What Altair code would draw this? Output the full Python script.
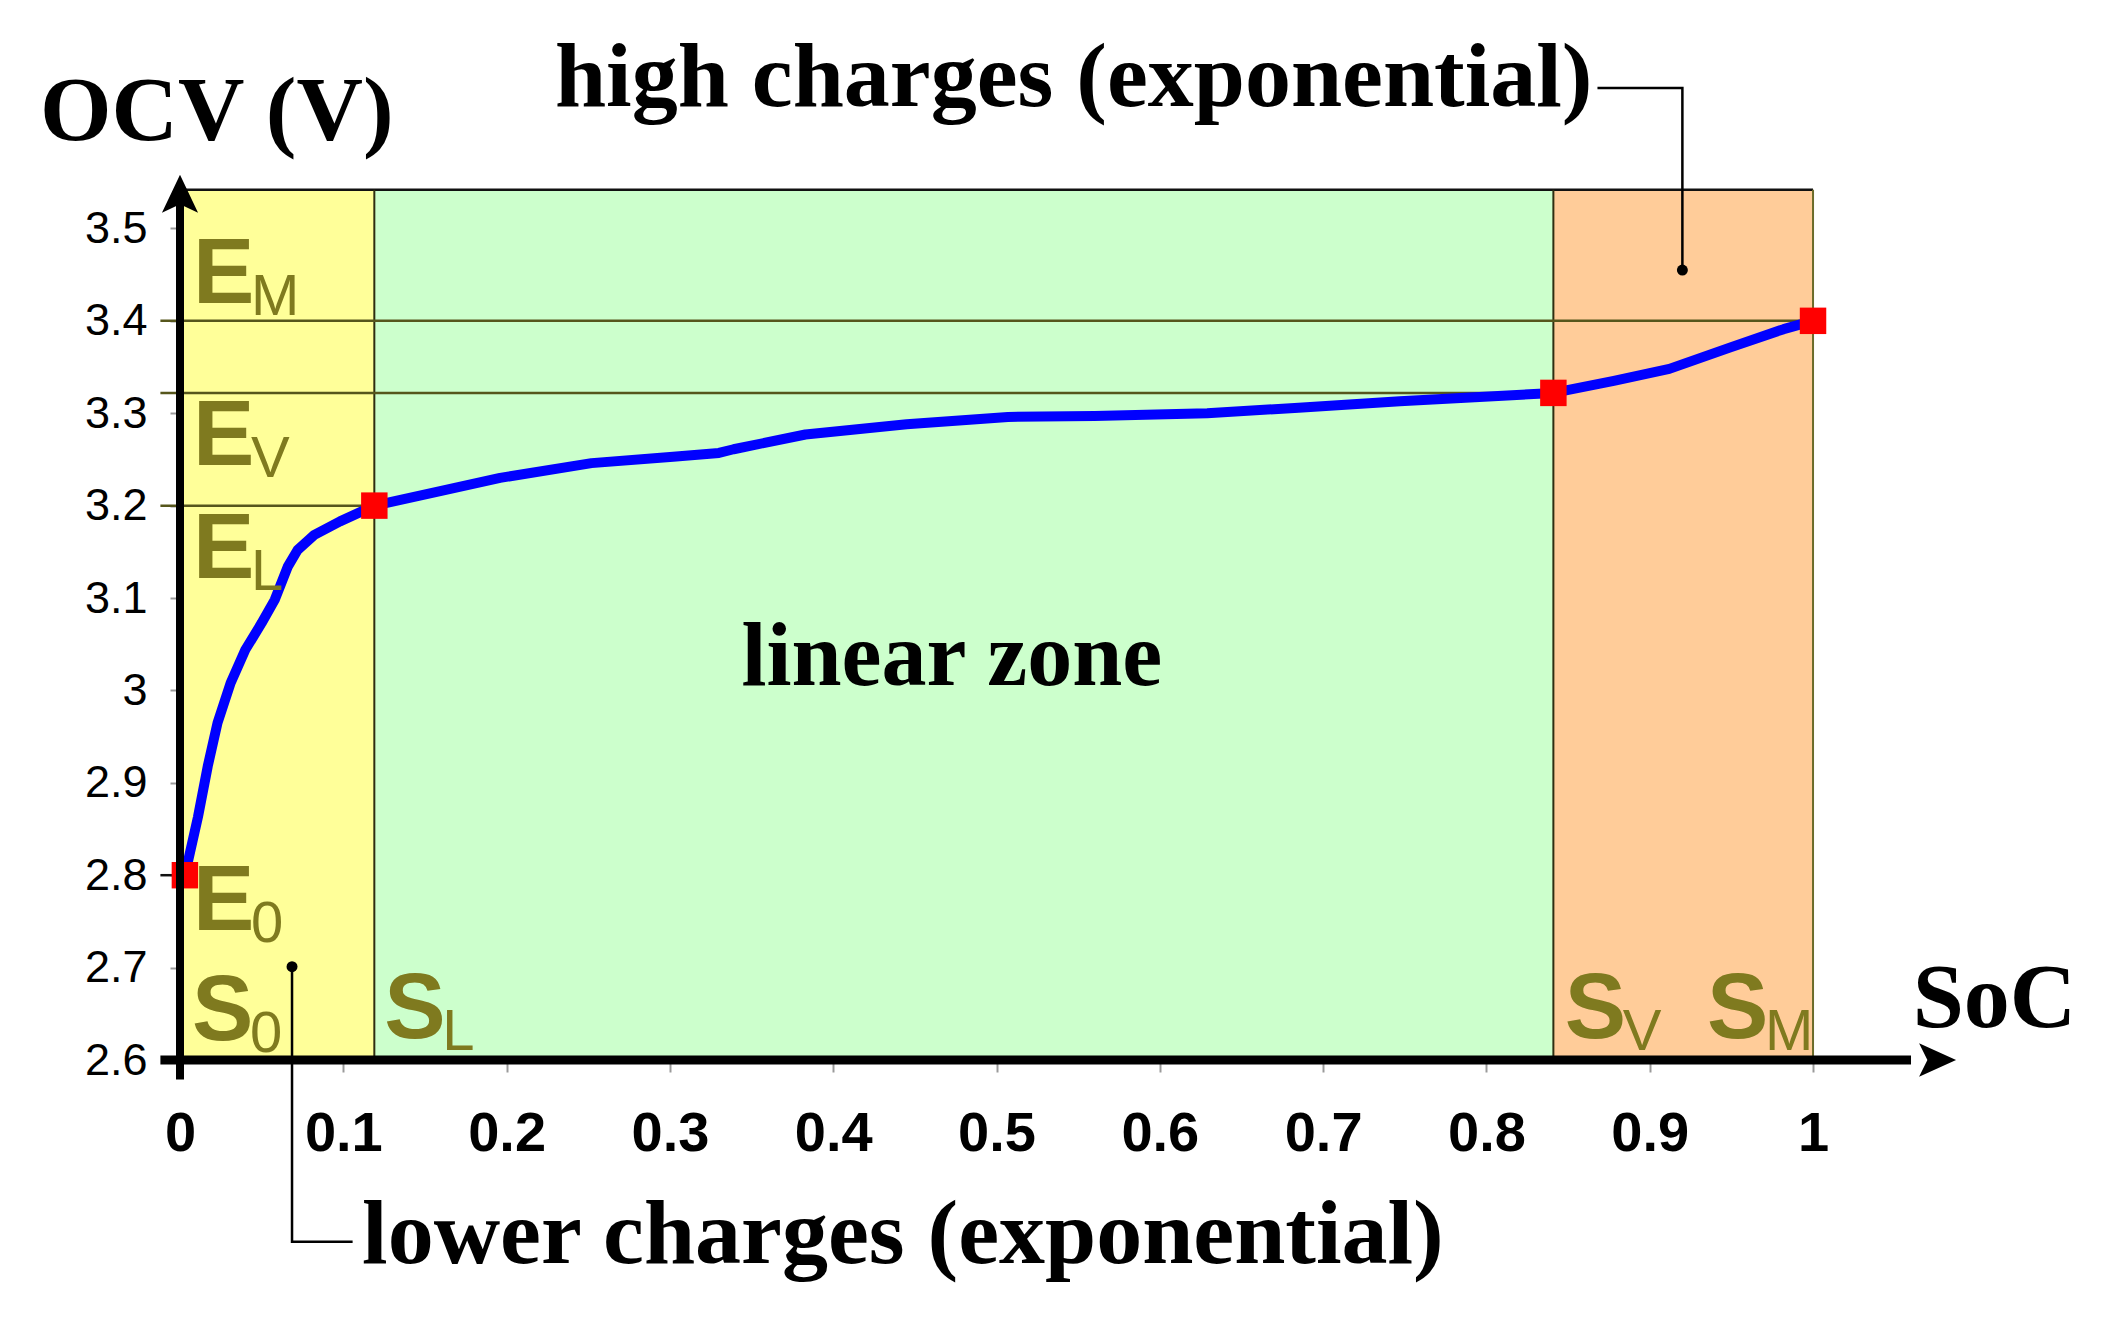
import altair as alt
import pandas as pd

# ---- data ----
soc = [0.003, 0.011, 0.017, 0.023, 0.031, 0.040, 0.050, 0.058, 0.066, 0.072, 0.082, 0.098,
       0.119, 0.160, 0.196, 0.252, 0.302, 0.330, 0.339, 0.383, 0.445, 0.507, 0.560, 0.629,
       0.685, 0.747, 0.810, 0.841, 0.878, 0.912, 0.949, 0.982, 1.000]
ocv = [2.800, 2.863, 2.918, 2.965, 3.008, 3.044, 3.073, 3.098, 3.134, 3.152, 3.168, 3.183,
       3.200, 3.216, 3.230, 3.246, 3.253, 3.257, 3.261, 3.277, 3.288, 3.296, 3.297, 3.300,
       3.306, 3.313, 3.319, 3.322, 3.335, 3.348, 3.371, 3.391, 3.400]

key_soc = [0.003, 0.119, 0.841, 1.000]
key_ocv = [2.800, 3.200, 3.322, 3.400]

zone_start = [0.0, 0.119, 0.841]
zone_end = [0.119, 0.841, 1.0]
zone_color = ["#FFFF99", "#CCFFCC", "#FFCC99"]
zone_bottom = 2.6
zone_top = 3.542

x_ticks = [0, 0.1, 0.2, 0.3, 0.4, 0.5, 0.6, 0.7, 0.8, 0.9, 1]
y_ticks = [2.6, 2.7, 2.8, 2.9, 3.0, 3.1, 3.2, 3.3, 3.4, 3.5]

# guide segments (x, x2, y, y2, colour, width)
seg_x = [0.0, 1.0, 0.119, 0.841, -0.012, -0.012, -0.012, -0.012]
seg_x2 = [1.0, 1.0, 0.119, 0.841, 1.0, 0.841, 0.119, 0.0]
seg_y = [3.542, 2.6, 2.6, 2.6, 3.4, 3.322, 3.2, 2.8]
seg_y2 = [3.542, 3.542, 3.542, 3.542, 3.4, 3.322, 3.2, 2.8]
seg_col = ["#111111", "#6b6b2a", "#2e2e10", "#2e2e10", "#56561c", "#56561c", "#56561c",
           "#111111"]
seg_w = [2.5, 2, 2, 2, 2.5, 2.5, 2.5, 2.5]

# axis lines (x, x2, y, y2, width)
ax_x = [0.0, -0.012]
ax_x2 = [0.0, 1.06]
ax_y = [2.579, 2.6]
ax_y2 = [3.53, 2.6]
ax_w = [8, 9]

label_main = ["E", "E", "E", "E", "S", "S", "S", "S"]
label_sub = ["M", "V", "L", "0", "0", "L", "V", "M"]
label_x = [0.008, 0.008, 0.008, 0.008, 0.0073, 0.125, 0.848, 0.935]
label_y = [3.4197, 3.2443, 3.1219, 2.7408, 2.6217, 2.6238, 2.6238, 2.6238]

title_text = ["OCV (V)", "SoC", "high charges (exponential)", "lower charges (exponential)"]
title_x = [-0.0857, 1.061, 0.2296, 0.1115]
title_y = [3.596, 2.6357, 3.633, 2.380]

zone_text = ["linear zone"]
zone_text_x = [0.4727]
zone_text_y = [3.006]

conn_id = ["high", "high", "high", "low", "low", "low"]
conn_order = [0, 1, 2, 0, 1, 2]
conn_x = [0.868, 0.920, 0.920, 0.1057, 0.0686, 0.0686]
conn_y = [3.652, 3.652, 3.455, 2.4033, 2.4033, 2.701]
dot_x = [0.920, 0.0686]
dot_y = [3.455, 2.701]

arrow_x = [0.0, 1.0876]
arrow_y = [3.558, 2.6]

# ---- scales / axes ----
XS = alt.Scale(domain=[0, 1.09], nice=False, zero=False)
YS = alt.Scale(domain=[2.6, 3.56], nice=False, zero=False)
XAX = alt.Axis(values=x_ticks, format="~g", domain=False, grid=False, tickColor="#9a9a9a",
               tickSize=12, tickWidth=2, labelFont="Liberation Sans", labelFontWeight="bold",
               labelFontSize=56, labelColor="black", labelPadding=34, title=None,
               labelFlush=False, labelOverlap=False)
YAX = alt.Axis(values=y_ticks, format="~g", domain=False, grid=False, tickColor="#9a9a9a",
               tickSize=10, tickWidth=2, labelFont="Liberation Sans", labelFontSize=45,
               labelColor="black", labelPadding=23, title=None, labelFlush=False,
               labelOverlap=False)


def X(f):
    return alt.X(f, type="quantitative", scale=XS, axis=XAX)


def Y(f):
    return alt.Y(f, type="quantitative", scale=YS, axis=YAX)


zones = pd.DataFrame({"x": zone_start, "x2": zone_end, "c": zone_color,
                      "y": [zone_bottom] * 3, "y2": [zone_top] * 3})
segs = pd.DataFrame({"x": seg_x, "x2": seg_x2, "y": seg_y, "y2": seg_y2, "c": seg_col, "w": seg_w})
axes_df = pd.DataFrame({"x": ax_x, "x2": ax_x2, "y": ax_y, "y2": ax_y2, "w": ax_w})
curve = pd.DataFrame({"soc": soc, "ocv": ocv})
keys = pd.DataFrame({"soc": key_soc, "ocv": key_ocv})
labels = pd.DataFrame({"m": label_main, "s": label_sub, "x": label_x, "y": label_y})
titles = pd.DataFrame({"t": title_text, "x": title_x, "y": title_y})
ztext = pd.DataFrame({"t": zone_text, "x": zone_text_x, "y": zone_text_y})
conns = pd.DataFrame({"id": conn_id, "o": conn_order, "x": conn_x, "y": conn_y})
dots = pd.DataFrame({"x": dot_x, "y": dot_y})
arrows = pd.DataFrame({"x": arrow_x, "y": arrow_y, "k": ["up", "right"]})

zone_layer = alt.Chart(zones).mark_rect(strokeWidth=0).encode(
    x=X("x"), x2="x2", y=Y("y"), y2="y2", color=alt.Color("c:N", scale=None))

seg_layer = alt.Chart(segs).mark_rule(strokeCap="butt").encode(
    x=X("x"), x2="x2", y=Y("y"), y2="y2",
    color=alt.Color("c:N", scale=None), size=alt.Size("w:Q", scale=None))

axis_layer = alt.Chart(axes_df).mark_rule(color="black", strokeCap="butt").encode(
    x=X("x"), x2="x2", y=Y("y"), y2="y2", strokeWidth=alt.StrokeWidth("w:Q", scale=None))

curve_layer = alt.Chart(curve).mark_line(color="#0000FF", strokeWidth=10, strokeJoin="round",
                                         strokeCap="round").encode(
    x=X("soc"), y=Y("ocv"), order=alt.Order("soc:Q"))

key_layer = alt.Chart(keys).mark_point(shape="square", filled=True, color="#FF0000",
                                       opacity=1, size=700).encode(x=X("soc"), y=Y("ocv"))

conn_layer = alt.Chart(conns).mark_line(color="black", strokeWidth=2.5).encode(
    x=X("x"), y=Y("y"), detail="id:N", order=alt.Order("o:Q"))

dot_layer = alt.Chart(dots).mark_circle(color="black", opacity=1, size=120).encode(
    x=X("x"), y=Y("y"))

up_path = "M0,0 L0.95,2 L0,1.55 L-0.95,2 Z"
right_path = "M0,0 L-2,-0.9 L-1.55,0 L-2,0.9 Z"
arrow_up = alt.Chart(arrows[arrows.k == "up"]).mark_point(
    shape=up_path, filled=True, color="black", opacity=1, size=1444).encode(x=X("x"), y=Y("y"))
arrow_right = alt.Chart(arrows[arrows.k == "right"]).mark_point(
    shape=right_path, filled=True, color="black", opacity=1, size=1369).encode(x=X("x"), y=Y("y"))

OLIVE = "#7f7a1f"
main_text = alt.Chart(labels).mark_text(
    font="Liberation Sans", fontWeight="bold", fontSize=92, color=OLIVE,
    align="left", baseline="alphabetic").encode(x=X("x"), y=Y("y"), text="m:N")
sub_text = alt.Chart(labels).mark_text(
    font="Liberation Sans", fontSize=58, color=OLIVE, dx=58, dy=12,
    align="left", baseline="alphabetic").encode(x=X("x"), y=Y("y"), text="s:N")

title_layer = alt.Chart(titles).mark_text(
    font="Liberation Serif", fontWeight="bold", fontSize=92, color="black",
    align="left", baseline="alphabetic").encode(x=X("x"), y=Y("y"), text="t:N")
zone_text_layer = alt.Chart(ztext).mark_text(
    font="Liberation Serif", fontWeight="bold", fontSize=90, color="black",
    align="center", baseline="alphabetic").encode(x=X("x"), y=Y("y"), text="t:N")

chart = alt.layer(
    zone_layer, seg_layer, curve_layer, key_layer, conn_layer, dot_layer,
    axis_layer, arrow_up, arrow_right, main_text, sub_text, title_layer, zone_text_layer
).properties(
    width=1780, height=887,
    autosize=alt.AutoSizeParams(type="none"),
    padding={"left": 172, "top": 165, "right": 135, "bottom": 252},
    background="white",
).configure_view(strokeWidth=0)

chart.save("out.html", embed_options={"renderer": "svg", "actions": False})
